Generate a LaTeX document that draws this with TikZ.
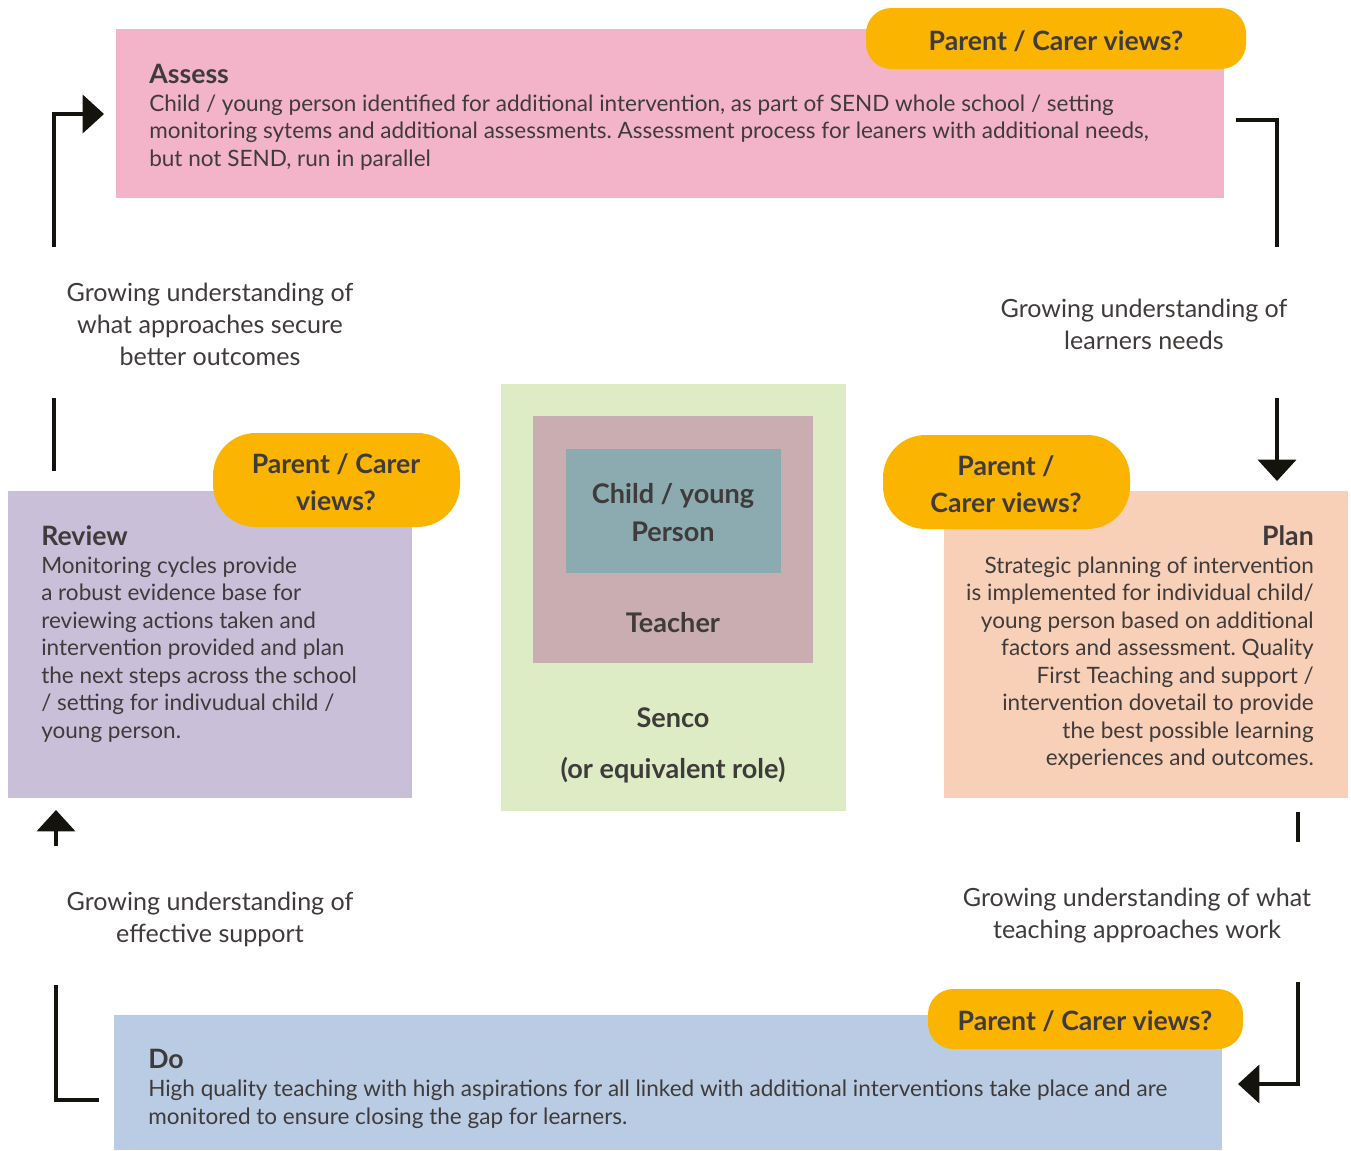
\documentclass[tikz,border=0pt]{standalone}
\usepackage{fontspec}
\setmainfont{Lato}
\frenchspacing
\usetikzlibrary{arrows.meta,fit}
\definecolor{txt}{HTML}{403B3B}
\definecolor{pinkbox}{HTML}{F3B3C9}
\definecolor{lilacbox}{HTML}{C9BFD9}
\definecolor{peachbox}{HTML}{F8D0B8}
\definecolor{bluebox}{HTML}{B9CCE3}
\definecolor{pillc}{HTML}{FBB500}
\definecolor{sencogreen}{HTML}{DEECC6}
\definecolor{teachermauve}{HTML}{C9ADB0}
\definecolor{childteal}{HTML}{8BABB1}
\definecolor{arrowc}{HTML}{15130E}
\tikzset{
  x=0.75pt, y=-0.75pt,
  area/.style={fill=#1, draw=none, inner sep=0pt},
  pillbox/.style={fill=pillc, draw=none, inner sep=0pt, rounded corners=#1},
  bodytext/.style={text=txt, inner sep=0pt, align=left, font=\fontsize{16.9pt}{20.6pt}\selectfont},
  bodytextr/.style={text=txt, inner sep=0pt, align=right, font=\fontsize{16.9pt}{20.6pt}\selectfont},
  titletext/.style={text=txt, inner sep=0pt, font=\fontsize{20pt}{23pt}\selectfont\bfseries},
  labeltext/.style={text=txt, inner sep=0pt, align=center, font=\fontsize{18.8pt}{24pt}\selectfont},
  pilltext/.style={text=txt, inner sep=0pt, align=center, font=\fontsize{20pt}{27.75pt}\selectfont\bfseries},
  centertext/.style={text=txt, inner sep=0pt, align=center, font=\fontsize{20.3pt}{28.5pt}\selectfont\bfseries},
  flowline/.style={draw=arrowc, line width=3pt},
  flowarrow/.style={flowline, -{Triangle[width=28.5pt, length=16pt]}},
}
\begin{document}
\begin{tikzpicture}
\useasboundingbox (0,0) rectangle (1351,1150);

% stage boxes
\node[area=pinkbox, fit={(116,29) (1224,198)}] (assess) {};
\node[area=lilacbox, fit={(8,491) (412,798)}] (review) {};
\node[area=peachbox, fit={(944,491) (1348,798)}] (plan) {};
\node[area=bluebox, fit={(114,1015) (1222,1150)}] (do) {};

% centre
\node[area=sencogreen, fit={(501,384) (846,811)}] (senco) {};
\node[area=teachermauve, fit={(533,416) (813,663)}] (teacher) {};
\node[area=childteal, fit={(566,449) (781,573)}] (child) {};
\node[centertext, anchor=base] (childtxt) at (673,541) {Child / young\\Person};
\node[centertext, anchor=base] (teachertxt) at (673,632) {Teacher};
\node[centertext, anchor=base] (sencotxt) at (673,727) {Senco};
\node[centertext, anchor=base] (roletxt) at (673,778) {(or equivalent role)};

% pills
\node[pillbox=19pt, fit={(866,8) (1246,69)}] (pillA) {};
\node[pilltext, anchor=base] (pillAtxt) at (1056,50) {Parent / Carer views?};
\node[pillbox=32pt, fit={(213,433) (460,527)}] (pillR) {};
\node[pilltext, anchor=base] (pillRtxt) at (336,510) {Parent / Carer\\views?};
\node[pillbox=32pt, fit={(883,435) (1130,529)}] (pillP) {};
\node[pilltext, anchor=base] (pillPtxt) at (1006,512) {Parent /\\Carer views?};
\node[pillbox=19pt, fit={(928,989) (1243,1049)}] (pillD) {};
\node[pilltext, anchor=base] (pillDtxt) at (1085,1030) {Parent / Carer views?};

% stage texts
\node[titletext, anchor=base west] (assesstitle) at (149,83) {Assess};
\node[bodytext, anchor=base west] (assesstxt) at (149,166) {Child / young person identified for additional intervention, as part of SEND whole school / setting\\monitoring sytems and additional assessments. Assessment process for leaners with additional needs,\\but not SEND, run in parallel};

\node[titletext, anchor=base west] (reviewtitle) at (41,545) {Review};
\node[bodytext, anchor=base west] (reviewtxt) at (41,738) {Monitoring cycles provide\\a robust evidence base for\\reviewing actions taken and\\intervention provided and plan\\the next steps across the school\\/ setting for indivudual child /\\young person.};

\node[titletext, anchor=base east] (plantitle) at (1314,545) {Plan};
\node[bodytextr, anchor=base east] (plantxt) at (1314,765.5) {Strategic planning of intervention\\is implemented for individual child/\\young person based on additional\\factors and assessment. Quality\\First Teaching and support /\\intervention dovetail to provide\\the best possible learning\\experiences and outcomes.};

\node[titletext, anchor=base west] (dotitle) at (148,1068) {Do};
\node[bodytext, anchor=base west] (dotxt) at (148,1124) {High quality teaching with high aspirations for all linked with additional interventions take place and are\\monitored to ensure closing the gap for learners.};

% labels
\node[labeltext, anchor=base] (lab1) at (210,365) {Growing understanding of\\what approaches secure\\better outcomes};
\node[labeltext, anchor=base] (lab2) at (1144,349) {Growing understanding of\\learners needs};
\node[labeltext, anchor=base] (lab3) at (210,942) {Growing understanding of\\effective support};
\node[labeltext, anchor=base] (lab4) at (1137,938) {Growing understanding of what\\teaching approaches work};

% connector coordinates
\coordinate (tlA) at (54,247);
\coordinate (tlB) at (104,114);
\coordinate (trA) at (1236,120);
\coordinate (trB) at (1277,247);
\coordinate (rmA) at (1277,398);
\coordinate (rmB) at (1277,481);
\coordinate (rlA) at (1298,812);
\coordinate (rlB) at (1298,842);
\coordinate (rbA) at (1298,982);
\coordinate (rbB) at (1238,1084);
\coordinate (blA) at (56,985);
\coordinate (blB) at (99,1100);
\coordinate (llA) at (56,846);
\coordinate (llB) at (56,810);
\coordinate (lmA) at (54,398);
\coordinate (lmB) at (54,471);

\draw[flowarrow] (tlA) |- (tlB);
\draw[flowline] (trA) -| (trB);
\draw[flowarrow] (rmA) -- (rmB);
\draw[flowline] (rlA) -- (rlB);
\draw[flowarrow] (rbA) |- (rbB);
\draw[flowline] (blA) |- (blB);
\draw[flowarrow] (llA) -- (llB);
\draw[flowline] (lmA) -- (lmB);
\end{tikzpicture}
\end{document}
